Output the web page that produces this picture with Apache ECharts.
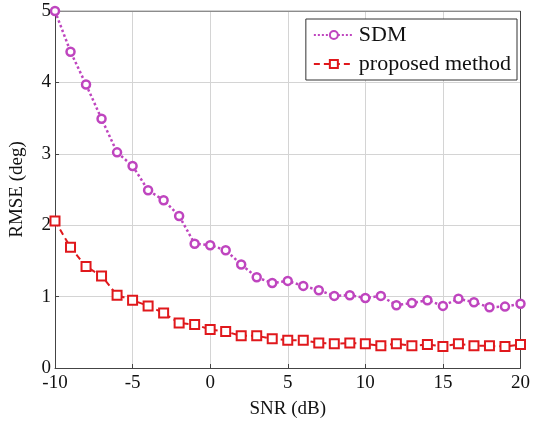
<!DOCTYPE html>
<html>
<head>
<meta charset="utf-8">
<script src="https://cdn.jsdelivr.net/npm/echarts@6/dist/echarts.min.js"></script>
<style>
  html, body { margin: 0; padding: 0; background: #fff; }
  #chart { width: 533px; height: 426px; }
</style>
</head>
<body>
<div id="chart"></div>
<script>
// SNR values (dB)
const snr = [-10, -9, -8, -7, -6, -5, -4, -3, -2, -1, 0, 1, 2, 3, 4, 5, 6, 7, 8, 9, 10,
  11, 12, 13, 14, 15, 16, 17, 18, 19, 20];
// RMSE (deg)
const sdm = [5.0, 4.43, 3.97, 3.49, 3.02, 2.83, 2.49, 2.35, 2.13, 1.74, 1.72, 1.65, 1.45, 1.27, 1.19, 1.22,
  1.15, 1.09, 1.01, 1.02, 0.98, 1.01, 0.88, 0.91, 0.95, 0.87, 0.97, 0.92, 0.85, 0.86, 0.90];
const proposed = [2.06, 1.69, 1.42, 1.29, 1.02, 0.95, 0.87, 0.77, 0.63, 0.61, 0.54, 0.51, 0.45, 0.45, 0.41,
  0.39, 0.39, 0.35, 0.34, 0.35, 0.34, 0.31, 0.34, 0.31, 0.33, 0.30, 0.34, 0.31, 0.31, 0.30, 0.33];

const font = 'Liberation Serif';
const chart = echarts.init(document.getElementById('chart'));

const toPairs = (ys) => snr.map((x, i) => [x, ys[i]]);

const option = {
  animation: false,
  backgroundColor: '#fff',
  grid: { left: 53, right: 12, top: 11, bottom: 58, containLabel: false },
  legend: {
    right: 16,
    top: 19,
    orient: 'vertical',
    itemWidth: 40,
    itemHeight: 10,
    itemGap: 7,
    padding: [5, 6, 5, 7],
    borderColor: '#333',
    borderWidth: 1,
    backgroundColor: '#fff',
    textStyle: { fontFamily: font, fontSize: 22, color: '#111' },
    data: ['SDM', 'proposed method']
  },
  xAxis: {
    type: 'value',
    min: -10, max: 20, interval: 5,
    name: 'SNR (dB)',
    nameLocation: 'middle',
    nameGap: 32,
    nameTextStyle: { fontFamily: font, fontSize: 19, color: '#111' },
    axisLine: { onZero: false, lineStyle: { color: '#444', width: 1 } },
    axisTick: { inside: true, length: 4, lineStyle: { color: '#444' } },
    axisLabel: { fontFamily: font, fontSize: 19, color: '#111', margin: 6 },
    splitLine: { show: true, lineStyle: { color: '#d4d4d4', width: 1 } }
  },
  yAxis: {
    type: 'value',
    min: 0, max: 5, interval: 1,
    name: 'RMSE (deg)',
    nameLocation: 'middle',
    nameGap: 28,
    nameTextStyle: { fontFamily: font, fontSize: 19, color: '#111' },
    axisLine: { onZero: false, lineStyle: { color: '#444', width: 1 } },
    axisTick: { inside: true, length: 4, lineStyle: { color: '#444' } },
    axisLabel: { fontFamily: font, fontSize: 19, color: '#111', margin: 4 },
    splitLine: { show: true, lineStyle: { color: '#d4d4d4', width: 1 } }
  },
  series: [
    {
      name: 'SDM',
      type: 'line',
      data: toPairs(sdm),
      symbol: 'circle',
      symbolSize: 8,
      showAllSymbol: true,
      color: '#bf45bf',
      lineStyle: { type: 'dotted', width: 2.5, color: '#bf45bf' },
      itemStyle: { borderWidth: 2.5, borderColor: '#bf45bf', color: '#fff' }
    },
    {
      name: 'proposed method',
      type: 'line',
      data: toPairs(proposed),
      symbol: 'rect',
      symbolSize: 9,
      showAllSymbol: true,
      color: '#e0181c',
      lineStyle: { type: [6, 4], width: 2, color: '#e0181c' },
      itemStyle: { borderWidth: 2, borderColor: '#e0181c', color: '#fff' }
    },
    {
      // top and right frame lines of the axes box
      type: 'line',
      data: [[-10, 5], [20, 5], [20, 0]],
      symbol: 'none',
      silent: true,
      lineStyle: { color: '#444', width: 1 },
      z: 1
    }
  ]
};

chart.setOption(option);
</script>
</body>
</html>
